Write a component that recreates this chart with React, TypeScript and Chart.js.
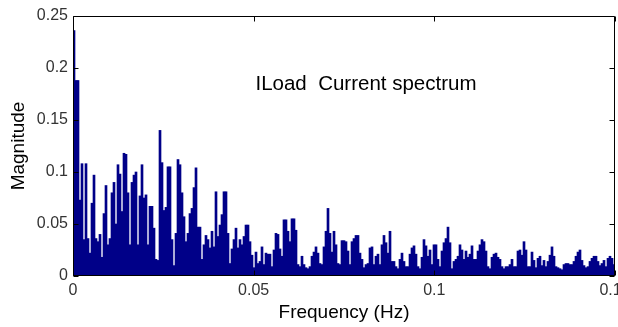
import React, { useEffect, useRef } from "react";
import { Chart, registerables } from "chart.js";

Chart.register(...registerables);

// Spectrum magnitudes, one per frequency bin
const magnitudes = [
  0.236, 0.188, 0.188, 0.073, 0.108, 0.035, 0.108, 0.036, 0.022, 0.07,
  0.097, 0.036, 0.033, 0.04, 0.018, 0.06, 0.087, 0.03, 0.036, 0.08,
  0.09, 0.05, 0.107, 0.098, 0.062, 0.118, 0.117, 0.08, 0.03, 0.09,
  0.097, 0.1, 0.03, 0.077, 0.107, 0.075, 0.078, 0.03, 0.067, 0.067,
  0.046, 0.016, 0.015, 0.14,
  0.109, 0.063, 0.066, 0.105, 0.105, 0.035, 0.01, 0.041, 0.112, 0.107,
  0.08, 0.057, 0.033, 0.041, 0.06, 0.065, 0.085, 0.104, 0.047, 0.047,
  0.016, 0.03, 0.039, 0.035, 0.027, 0.043, 0.028, 0.081, 0.038, 0.049,
  0.059, 0.081, 0.081, 0.041, 0.012, 0.026, 0.035, 0.046, 0.027, 0.035,
  0.03, 0.038, 0.049, 0.049,
  0.033, 0.02, 0.008, 0.023, 0.012, 0.014, 0.028, 0.011, 0.022, 0.021,
  0.021, 0.009, 0.025, 0.041, 0.04, 0.026, 0.019, 0.054, 0.054, 0.043,
  0.033, 0.055, 0.055, 0.044, 0.011, 0.009, 0.019, 0.011, 0.008, 0.007,
  0.009, 0.019, 0.023, 0.028, 0.022, 0.012, 0.011, 0.028, 0.043, 0.065,
  0.041, 0.023, 0.043, 0.03, 0.012, 0.011,
  0.034, 0.034, 0.033, 0.024, 0.011, 0.033, 0.036, 0.039, 0.039, 0.022,
  0.016, 0.008, 0.011, 0.012, 0.027, 0.028, 0.011, 0.019, 0.021, 0.011,
  0.03, 0.039, 0.032, 0.022, 0.043, 0.014, 0.014, 0.009, 0.007, 0.016,
  0.022, 0.014, 0.009, 0.009, 0.021, 0.027, 0.029, 0.021, 0.009, 0.007,
  0.018, 0.035, 0.029, 0.019, 0.025,
  0.011, 0.03, 0.03, 0.016, 0.009, 0.024, 0.032, 0.036, 0.047, 0.032,
  0.007, 0.014, 0.016, 0.019, 0.03, 0.025, 0.016, 0.024, 0.018, 0.021,
  0.029, 0.016, 0.016, 0.024, 0.03, 0.035, 0.033, 0.024, 0.009, 0.007,
  0.018, 0.021, 0.022, 0.018, 0.016, 0.009, 0.007, 0.009, 0.009, 0.011,
  0.016, 0.009, 0.009, 0.024, 0.025,
  0.02, 0.033, 0.025, 0.009, 0.009, 0.023, 0.015, 0.008, 0.017, 0.019,
  0.01, 0.015, 0.009, 0.014, 0.02, 0.028, 0.019, 0.009, 0.008, 0.007,
  0.006, 0.011, 0.012, 0.012, 0.011, 0.011, 0.014, 0.019, 0.023, 0.025,
  0.015, 0.01, 0.008, 0.009, 0.014, 0.017, 0.019, 0.019, 0.014, 0.01,
  0.012, 0.015, 0.009, 0.017, 0.019, 0.017, 0.011,
];

const X_MAX = 0.15; // Hz
const Y_MAX = 0.25;
const xTickValues = [0, 0.05, 0.1, 0.15];
const yTickValues = [0, 0.05, 0.1, 0.15, 0.2, 0.25];
const xTitle = "Frequency (Hz)";
const yTitle = "Magnitude";
const annotationText = "ILoad  Current spectrum";
const annotationAt = { x: 0.0505, y: 0.184 };

const binWidth = X_MAX / magnitudes.length;
const frequencies = magnitudes.map((_, i) => (i + 0.5) * binWidth);

const FONT = '"Liberation Sans", Arial, Helvetica, sans-serif';
const BAR_COLOR = "#000088";

const fmt = (v: number) => String(Math.round(v * 100) / 100);

const boxPlugin = {
  id: "matlabBox",
  afterDatasetsDraw(chart: any) {
    const { ctx, chartArea: a, scales } = chart;
    const xs = scales.x;
    const ys = scales.y;
    const L = Math.round(a.left) + 0.5;
    const R = Math.round(a.right) - 0.5;
    const T = Math.round(a.top) + 0.5;
    const B = Math.round(a.bottom) - 0.5;
    const tick = 5;
    ctx.save();
    ctx.strokeStyle = "#000";
    ctx.lineWidth = 1;
    ctx.beginPath();
    ctx.rect(L, T, R - L, B - T);
    xTickValues.forEach((v) => {
      const px = Math.round(xs.getPixelForValue(v)) + 0.5;
      ctx.moveTo(px, B);
      ctx.lineTo(px, B - tick);
      ctx.moveTo(px, T);
      ctx.lineTo(px, T + tick);
    });
    yTickValues.forEach((v) => {
      const py = Math.round(ys.getPixelForValue(v)) + 0.5;
      ctx.moveTo(L, py);
      ctx.lineTo(L + tick, py);
      ctx.moveTo(R, py);
      ctx.lineTo(R - tick, py);
    });
    ctx.stroke();
    ctx.fillStyle = "#000";
    ctx.font = `20.5px ${FONT}`;
    ctx.textBaseline = "middle";
    ctx.textAlign = "left";
    ctx.fillText(
      annotationText,
      xs.getPixelForValue(annotationAt.x),
      ys.getPixelForValue(annotationAt.y)
    );
    ctx.restore();
  },
};

export default function App() {
  const ref = useRef<HTMLCanvasElement | null>(null);

  useEffect(() => {
    document.body.style.margin = "0";
    if (!ref.current) return;
    const chart = new Chart(ref.current, {
      type: "bar",
      data: {
        datasets: [
          {
            data: frequencies.map((f, i) => ({ x: f, y: magnitudes[i] })),
            backgroundColor: BAR_COLOR,
            borderWidth: 0,
            barPercentage: 1,
            categoryPercentage: 1,
          },
        ],
      },
      options: {
        responsive: false,
        animation: false,
        layout: { padding: { top: 16, right: 35, left: 0, bottom: 0 } },
        plugins: {
          legend: { display: false },
          tooltip: { enabled: false },
        },
        scales: {
          x: {
            type: "linear",
            min: 0,
            max: X_MAX,
            offset: false,
            afterBuildTicks: (s: any) => {
              s.ticks = xTickValues.map((v) => ({ value: v }));
            },
            afterFit: (s: any) => {
              s.height = 51;
            },
            grid: { display: false, drawTicks: false },
            border: { display: false },
            ticks: {
              padding: 7,
              color: "#333",
              autoSkip: false,
              maxRotation: 0,
              font: { family: FONT, size: 16, lineHeight: 1 },
              callback: (v: any) => fmt(Number(v)),
            },
            title: {
              display: true,
              text: xTitle,
              color: "#000",
              font: { family: FONT, size: 19 },
              padding: { top: 0, bottom: 3 },
            },
          },
          y: {
            type: "linear",
            min: 0,
            max: Y_MAX,
            afterBuildTicks: (s: any) => {
              s.ticks = yTickValues.map((v) => ({ value: v }));
            },
            afterFit: (s: any) => {
              s.width = 73;
            },
            grid: { display: false, drawTicks: false },
            border: { display: false },
            ticks: {
              padding: 5,
              color: "#333",
              autoSkip: false,
              font: { family: FONT, size: 16, lineHeight: 1 },
              callback: (v: any) => fmt(Number(v)),
            },
            title: {
              display: true,
              text: yTitle,
              color: "#000",
              font: { family: FONT, size: 19 },
              padding: { top: 7, bottom: 0 },
            },
          },
        },
      } as any,
      plugins: [boxPlugin],
    });
    return () => chart.destroy();
  }, []);

  return (
    <div style={{ width: 618, height: 327, overflow: "hidden" }}>
      <canvas ref={ref} width={650} height={327} style={{ display: "block" }} />
    </div>
  );
}
